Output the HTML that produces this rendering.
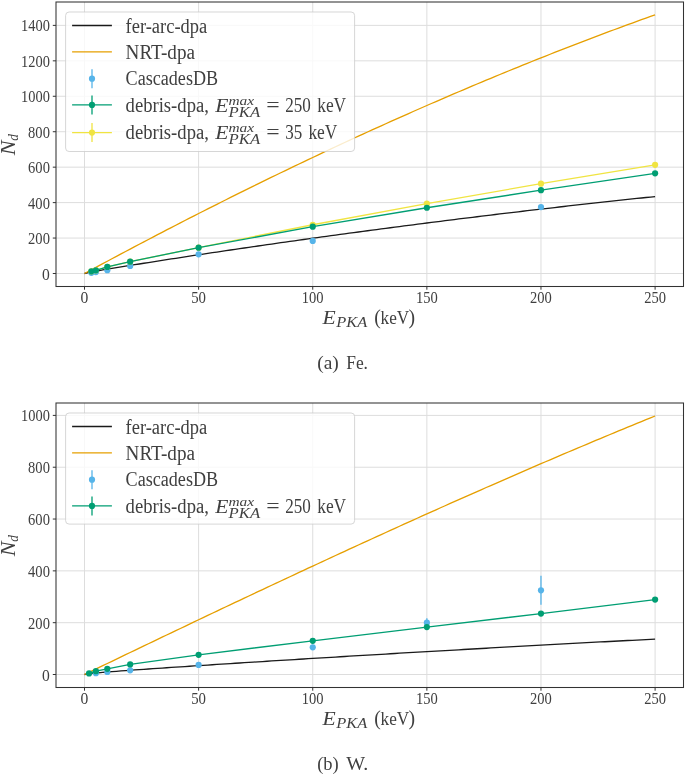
<!DOCTYPE html>
<html><head><meta charset="utf-8"><style>
html,body{margin:0;padding:0;background:#fff;}
svg{display:block;will-change:transform;}
</style></head><body>
<svg width="685" height="776" viewBox="0 0 685 776" font-family='"Liberation Serif", serif' fill="#404040">
<rect width="685" height="776" fill="#ffffff"/>
<line x1="84.50" y1="2.00" x2="84.50" y2="286.50" stroke="#dddddd" stroke-width="1.0"/>
<line x1="198.62" y1="2.00" x2="198.62" y2="286.50" stroke="#dddddd" stroke-width="1.0"/>
<line x1="312.74" y1="2.00" x2="312.74" y2="286.50" stroke="#dddddd" stroke-width="1.0"/>
<line x1="426.86" y1="2.00" x2="426.86" y2="286.50" stroke="#dddddd" stroke-width="1.0"/>
<line x1="540.98" y1="2.00" x2="540.98" y2="286.50" stroke="#dddddd" stroke-width="1.0"/>
<line x1="655.10" y1="2.00" x2="655.10" y2="286.50" stroke="#dddddd" stroke-width="1.0"/>
<line x1="56.00" y1="273.50" x2="683.50" y2="273.50" stroke="#dddddd" stroke-width="1.0"/>
<line x1="56.00" y1="238.06" x2="683.50" y2="238.06" stroke="#dddddd" stroke-width="1.0"/>
<line x1="56.00" y1="202.61" x2="683.50" y2="202.61" stroke="#dddddd" stroke-width="1.0"/>
<line x1="56.00" y1="167.17" x2="683.50" y2="167.17" stroke="#dddddd" stroke-width="1.0"/>
<line x1="56.00" y1="131.72" x2="683.50" y2="131.72" stroke="#dddddd" stroke-width="1.0"/>
<line x1="56.00" y1="96.28" x2="683.50" y2="96.28" stroke="#dddddd" stroke-width="1.0"/>
<line x1="56.00" y1="60.84" x2="683.50" y2="60.84" stroke="#dddddd" stroke-width="1.0"/>
<line x1="56.00" y1="25.39" x2="683.50" y2="25.39" stroke="#dddddd" stroke-width="1.0"/>
<polyline points="84.50,273.50 89.06,272.40 93.63,271.56 98.19,270.75 102.76,269.97 107.32,269.19 111.89,268.43 116.45,267.68 121.02,266.93 125.58,266.19 130.15,265.45 134.71,264.71 139.28,263.99 143.84,263.26 148.41,262.54 152.97,261.82 157.54,261.10 162.10,260.39 166.67,259.68 171.23,258.97 175.80,258.27 180.36,257.57 184.93,256.87 189.49,256.17 194.06,255.48 198.62,254.79 203.18,254.10 207.75,253.41 212.31,252.73 216.88,252.04 221.44,251.36 226.01,250.69 230.57,250.01 235.14,249.34 239.70,248.67 244.27,248.00 248.83,247.33 253.40,246.67 257.96,246.01 262.53,245.35 267.09,244.69 271.66,244.03 276.22,243.38 280.79,242.73 285.35,242.08 289.92,241.43 294.48,240.79 299.05,240.15 303.61,239.51 308.18,238.87 312.74,238.23 317.30,237.60 321.87,236.97 326.43,236.34 331.00,235.71 335.56,235.08 340.13,234.46 344.69,233.84 349.26,233.22 353.82,232.60 358.39,231.99 362.95,231.37 367.52,230.76 372.08,230.15 376.65,229.55 381.21,228.94 385.78,228.34 390.34,227.74 394.91,227.14 399.47,226.54 404.04,225.95 408.60,225.36 413.17,224.77 417.73,224.18 422.30,223.59 426.86,223.01 431.42,222.43 435.99,221.85 440.55,221.27 445.12,220.70 449.68,220.12 454.25,219.55 458.81,218.98 463.38,218.42 467.94,217.85 472.51,217.29 477.07,216.73 481.64,216.17 486.20,215.61 490.77,215.06 495.33,214.51 499.90,213.96 504.46,213.41 509.03,212.87 513.59,212.32 518.16,211.78 522.72,211.24 527.29,210.71 531.85,210.17 536.42,209.64 540.98,209.11 545.54,208.58 550.11,208.05 554.67,207.53 559.24,207.01 563.80,206.49 568.37,205.97 572.93,205.46 577.50,204.94 582.06,204.43 586.63,203.92 591.19,203.42 595.76,202.91 600.32,202.41 604.89,201.91 609.45,201.41 614.02,200.92 618.58,200.42 623.15,199.93 627.71,199.44 632.28,198.96 636.84,198.47 641.41,197.99 645.97,197.51 650.54,197.03 655.10,196.56" fill="none" stroke="#1a1a1a" stroke-width="1.3" stroke-linejoin="round" stroke-linecap="butt"/>
<polyline points="84.50,273.50 89.06,271.03 93.63,268.57 98.19,266.11 102.76,263.65 107.32,261.21 111.89,258.77 116.45,256.33 121.02,253.90 125.58,251.48 130.15,249.06 134.71,246.65 139.28,244.25 143.84,241.85 148.41,239.46 152.97,237.07 157.54,234.69 162.10,232.32 166.67,229.95 171.23,227.58 175.80,225.23 180.36,222.88 184.93,220.54 189.49,218.20 194.06,215.87 198.62,213.54 203.18,211.22 207.75,208.91 212.31,206.60 216.88,204.30 221.44,202.01 226.01,199.72 230.57,197.44 235.14,195.17 239.70,192.90 244.27,190.63 248.83,188.38 253.40,186.13 257.96,183.89 262.53,181.65 267.09,179.42 271.66,177.20 276.22,174.98 280.79,172.77 285.35,170.56 289.92,168.36 294.48,166.17 299.05,163.99 303.61,161.81 308.18,159.64 312.74,157.47 317.30,155.31 321.87,153.16 326.43,151.02 331.00,148.88 335.56,146.74 340.13,144.62 344.69,142.50 349.26,140.39 353.82,138.28 358.39,136.18 362.95,134.09 367.52,132.00 372.08,129.93 376.65,127.85 381.21,125.79 385.78,123.73 390.34,121.68 394.91,119.63 399.47,117.59 404.04,115.56 408.60,113.54 413.17,111.52 417.73,109.51 422.30,107.51 426.86,105.51 431.42,103.52 435.99,101.54 440.55,99.56 445.12,97.59 449.68,95.63 454.25,93.67 458.81,91.73 463.38,89.78 467.94,87.85 472.51,85.92 477.07,84.00 481.64,82.09 486.20,80.18 490.77,78.29 495.33,76.39 499.90,74.51 504.46,72.63 509.03,70.76 513.59,68.90 518.16,67.04 522.72,65.19 527.29,63.35 531.85,61.52 536.42,59.69 540.98,57.87 545.54,56.06 550.11,54.25 554.67,52.46 559.24,50.67 563.80,48.88 568.37,47.11 572.93,45.34 577.50,43.58 582.06,41.82 586.63,40.08 591.19,38.34 595.76,36.60 600.32,34.88 604.89,33.16 609.45,31.45 614.02,29.75 618.58,28.06 623.15,26.37 627.71,24.69 632.28,23.02 636.84,21.36 641.41,19.70 645.97,18.05 650.54,16.41 655.10,14.77" fill="none" stroke="#E69F00" stroke-width="1.3" stroke-linejoin="round" stroke-linecap="butt"/>
<circle cx="91.35" cy="272.79" r="3.1" fill="#56B4E9"/>
<circle cx="95.91" cy="272.08" r="3.1" fill="#56B4E9"/>
<circle cx="107.32" cy="270.13" r="3.1" fill="#56B4E9"/>
<circle cx="130.15" cy="265.88" r="3.1" fill="#56B4E9"/>
<circle cx="198.62" cy="254.36" r="3.1" fill="#56B4E9"/>
<circle cx="312.74" cy="240.89" r="3.1" fill="#56B4E9"/>
<circle cx="540.98" cy="207.04" r="3.1" fill="#56B4E9"/>
<polyline points="91.35,271.37 95.91,270.31 107.32,266.94 130.15,261.63 198.62,247.63 312.74,224.76 426.86,203.68 540.98,183.65 655.10,164.86" fill="none" stroke="#F0E442" stroke-width="1.3" stroke-linejoin="round" stroke-linecap="butt"/>
<circle cx="91.35" cy="271.37" r="3.1" fill="#F0E442"/>
<circle cx="95.91" cy="270.31" r="3.1" fill="#F0E442"/>
<circle cx="107.32" cy="266.94" r="3.1" fill="#F0E442"/>
<circle cx="130.15" cy="261.63" r="3.1" fill="#F0E442"/>
<circle cx="198.62" cy="247.63" r="3.1" fill="#F0E442"/>
<circle cx="312.74" cy="224.76" r="3.1" fill="#F0E442"/>
<circle cx="426.86" cy="203.68" r="3.1" fill="#F0E442"/>
<circle cx="540.98" cy="183.65" r="3.1" fill="#F0E442"/>
<circle cx="655.10" cy="164.86" r="3.1" fill="#F0E442"/>
<polyline points="91.35,271.37 95.91,270.31 107.32,266.94 130.15,261.63 198.62,247.63 312.74,226.71 426.86,207.75 540.98,190.21 655.10,173.37" fill="none" stroke="#009E73" stroke-width="1.3" stroke-linejoin="round" stroke-linecap="butt"/>
<circle cx="91.35" cy="271.37" r="3.1" fill="#009E73"/>
<circle cx="95.91" cy="270.31" r="3.1" fill="#009E73"/>
<circle cx="107.32" cy="266.94" r="3.1" fill="#009E73"/>
<circle cx="130.15" cy="261.63" r="3.1" fill="#009E73"/>
<circle cx="198.62" cy="247.63" r="3.1" fill="#009E73"/>
<circle cx="312.74" cy="226.71" r="3.1" fill="#009E73"/>
<circle cx="426.86" cy="207.75" r="3.1" fill="#009E73"/>
<circle cx="540.98" cy="190.21" r="3.1" fill="#009E73"/>
<circle cx="655.10" cy="173.37" r="3.1" fill="#009E73"/>
<rect x="65.6" y="12.00" width="289.0" height="139.50" rx="3.5" ry="3.5" fill="#ffffff" fill-opacity="0.8" stroke="#cccccc" stroke-opacity="0.8" stroke-width="1"/>
<line x1="72.10" y1="25.50" x2="111.90" y2="25.50" stroke="#1a1a1a" stroke-width="1.3"/>
<text x="125.60" y="32.50" font-size="20.0" font-style="normal" text-anchor="start" textLength="81.60" lengthAdjust="spacingAndGlyphs">fer-arc-dpa</text>
<line x1="72.10" y1="51.90" x2="111.90" y2="51.90" stroke="#E69F00" stroke-width="1.3"/>
<text x="125.60" y="58.60" font-size="20.0" font-style="normal" text-anchor="start" textLength="69.40" lengthAdjust="spacingAndGlyphs">NRT-dpa</text>
<line x1="92.00" y1="69.20" x2="92.00" y2="88.20" stroke="#56B4E9" stroke-width="1.3"/>
<circle cx="92.00" cy="78.70" r="3.1" fill="#56B4E9"/>
<text x="125.60" y="84.60" font-size="20.0" font-style="normal" text-anchor="start" textLength="92.50" lengthAdjust="spacingAndGlyphs">CascadesDB</text>
<line x1="72.10" y1="104.90" x2="111.90" y2="104.90" stroke="#009E73" stroke-width="1.3"/>
<line x1="92.00" y1="95.40" x2="92.00" y2="114.40" stroke="#009E73" stroke-width="1.3"/>
<circle cx="92.00" cy="104.90" r="3.1" fill="#009E73"/>
<text x="125.60" y="111.60" font-size="20.0" font-style="normal" text-anchor="start" textLength="83.30" lengthAdjust="spacingAndGlyphs">debris-dpa,</text>
<text x="215.30" y="111.60" font-size="19.0" font-style="italic" text-anchor="start" textLength="13.20" lengthAdjust="spacingAndGlyphs">E</text>
<text x="228.50" y="104.80" font-size="13.5" font-style="italic" text-anchor="start" textLength="25.60" lengthAdjust="spacingAndGlyphs">max</text>
<text x="228.60" y="116.60" font-size="14.5" font-style="italic" text-anchor="start" textLength="31.60" lengthAdjust="spacingAndGlyphs">PKA</text>
<text x="266.30" y="111.60" font-size="20.0" font-style="normal" text-anchor="start" textLength="13.40" lengthAdjust="spacingAndGlyphs">=</text>
<text x="285.20" y="111.60" font-size="20.4" font-style="normal" text-anchor="start" textLength="25.60" lengthAdjust="spacingAndGlyphs">250</text>
<text x="317.20" y="111.60" font-size="20.0" font-style="normal" text-anchor="start" textLength="29.00" lengthAdjust="spacingAndGlyphs">keV</text>
<line x1="72.10" y1="132.60" x2="111.90" y2="132.60" stroke="#F0E442" stroke-width="1.3"/>
<line x1="92.00" y1="123.10" x2="92.00" y2="142.10" stroke="#F0E442" stroke-width="1.3"/>
<circle cx="92.00" cy="132.60" r="3.1" fill="#F0E442"/>
<text x="125.60" y="138.70" font-size="20.0" font-style="normal" text-anchor="start" textLength="83.30" lengthAdjust="spacingAndGlyphs">debris-dpa,</text>
<text x="215.30" y="138.70" font-size="19.0" font-style="italic" text-anchor="start" textLength="13.20" lengthAdjust="spacingAndGlyphs">E</text>
<text x="228.50" y="131.90" font-size="13.5" font-style="italic" text-anchor="start" textLength="25.60" lengthAdjust="spacingAndGlyphs">max</text>
<text x="228.60" y="143.70" font-size="14.5" font-style="italic" text-anchor="start" textLength="31.60" lengthAdjust="spacingAndGlyphs">PKA</text>
<text x="266.30" y="138.70" font-size="20.0" font-style="normal" text-anchor="start" textLength="13.40" lengthAdjust="spacingAndGlyphs">=</text>
<text x="285.20" y="138.70" font-size="20.4" font-style="normal" text-anchor="start" textLength="17.00" lengthAdjust="spacingAndGlyphs">35</text>
<text x="308.40" y="138.70" font-size="20.0" font-style="normal" text-anchor="start" textLength="29.00" lengthAdjust="spacingAndGlyphs">keV</text>
<rect x="56.00" y="2.00" width="627.50" height="284.50" fill="none" stroke="#333333" stroke-width="1.05"/>
<line x1="84.50" y1="286.50" x2="84.50" y2="289.70" stroke="#333333" stroke-width="1.0"/>
<text x="84.50" y="303.40" font-size="17.2" font-style="normal" text-anchor="middle" textLength="7.80" lengthAdjust="spacingAndGlyphs">0</text>
<line x1="198.62" y1="286.50" x2="198.62" y2="289.70" stroke="#333333" stroke-width="1.0"/>
<text x="198.62" y="303.40" font-size="17.2" font-style="normal" text-anchor="middle" textLength="14.80" lengthAdjust="spacingAndGlyphs">50</text>
<line x1="312.74" y1="286.50" x2="312.74" y2="289.70" stroke="#333333" stroke-width="1.0"/>
<text x="312.74" y="303.40" font-size="17.2" font-style="normal" text-anchor="middle" textLength="21.80" lengthAdjust="spacingAndGlyphs">100</text>
<line x1="426.86" y1="286.50" x2="426.86" y2="289.70" stroke="#333333" stroke-width="1.0"/>
<text x="426.86" y="303.40" font-size="17.2" font-style="normal" text-anchor="middle" textLength="21.80" lengthAdjust="spacingAndGlyphs">150</text>
<line x1="540.98" y1="286.50" x2="540.98" y2="289.70" stroke="#333333" stroke-width="1.0"/>
<text x="540.98" y="303.40" font-size="17.2" font-style="normal" text-anchor="middle" textLength="21.80" lengthAdjust="spacingAndGlyphs">200</text>
<line x1="655.10" y1="286.50" x2="655.10" y2="289.70" stroke="#333333" stroke-width="1.0"/>
<text x="655.10" y="303.40" font-size="17.2" font-style="normal" text-anchor="middle" textLength="21.80" lengthAdjust="spacingAndGlyphs">250</text>
<line x1="52.80" y1="273.50" x2="56.00" y2="273.50" stroke="#333333" stroke-width="1.0"/>
<text x="49.90" y="279.50" font-size="17.2" font-style="normal" text-anchor="end" textLength="7.80" lengthAdjust="spacingAndGlyphs">0</text>
<line x1="52.80" y1="238.06" x2="56.00" y2="238.06" stroke="#333333" stroke-width="1.0"/>
<text x="49.90" y="244.06" font-size="17.2" font-style="normal" text-anchor="end" textLength="21.80" lengthAdjust="spacingAndGlyphs">200</text>
<line x1="52.80" y1="202.61" x2="56.00" y2="202.61" stroke="#333333" stroke-width="1.0"/>
<text x="49.90" y="208.61" font-size="17.2" font-style="normal" text-anchor="end" textLength="21.80" lengthAdjust="spacingAndGlyphs">400</text>
<line x1="52.80" y1="167.17" x2="56.00" y2="167.17" stroke="#333333" stroke-width="1.0"/>
<text x="49.90" y="173.17" font-size="17.2" font-style="normal" text-anchor="end" textLength="21.80" lengthAdjust="spacingAndGlyphs">600</text>
<line x1="52.80" y1="131.72" x2="56.00" y2="131.72" stroke="#333333" stroke-width="1.0"/>
<text x="49.90" y="137.72" font-size="17.2" font-style="normal" text-anchor="end" textLength="21.80" lengthAdjust="spacingAndGlyphs">800</text>
<line x1="52.80" y1="96.28" x2="56.00" y2="96.28" stroke="#333333" stroke-width="1.0"/>
<text x="49.90" y="102.28" font-size="17.2" font-style="normal" text-anchor="end" textLength="28.80" lengthAdjust="spacingAndGlyphs">1000</text>
<line x1="52.80" y1="60.84" x2="56.00" y2="60.84" stroke="#333333" stroke-width="1.0"/>
<text x="49.90" y="66.84" font-size="17.2" font-style="normal" text-anchor="end" textLength="28.80" lengthAdjust="spacingAndGlyphs">1200</text>
<line x1="52.80" y1="25.39" x2="56.00" y2="25.39" stroke="#333333" stroke-width="1.0"/>
<text x="49.90" y="31.39" font-size="17.2" font-style="normal" text-anchor="end" textLength="28.80" lengthAdjust="spacingAndGlyphs">1400</text>
<g transform="translate(14.6,155.15) rotate(-90)">
<text x="0.00" y="0.00" font-size="20.5" font-style="italic" text-anchor="start" textLength="14.80" lengthAdjust="spacingAndGlyphs">N</text>
<text x="14.40" y="3.30" font-size="14.5" font-style="italic" text-anchor="start" textLength="6.60" lengthAdjust="spacingAndGlyphs">d</text>
</g>
<text x="322.60" y="323.80" font-size="19.0" font-style="italic" text-anchor="start" textLength="13.20" lengthAdjust="spacingAndGlyphs">E</text>
<text x="336.30" y="327.00" font-size="14.5" font-style="italic" text-anchor="start" textLength="31.00" lengthAdjust="spacingAndGlyphs">PKA</text>
<text x="374.20" y="324.30" font-size="21.5" font-style="normal" text-anchor="start" textLength="6.60" lengthAdjust="spacingAndGlyphs">(</text>
<text x="380.60" y="323.70" font-size="19.5" font-style="normal" text-anchor="start" textLength="28.60" lengthAdjust="spacingAndGlyphs">keV</text>
<text x="408.40" y="324.30" font-size="21.5" font-style="normal" text-anchor="start" textLength="6.60" lengthAdjust="spacingAndGlyphs">)</text>
<text x="317.20" y="369.30" font-size="18.3" font-style="normal" text-anchor="start" textLength="21.60" lengthAdjust="spacingAndGlyphs">(a)</text>
<text x="346.20" y="369.30" font-size="18.3" font-style="normal" text-anchor="start" textLength="21.80" lengthAdjust="spacingAndGlyphs">Fe.</text>
<line x1="84.50" y1="403.00" x2="84.50" y2="687.50" stroke="#dddddd" stroke-width="1.0"/>
<line x1="198.62" y1="403.00" x2="198.62" y2="687.50" stroke="#dddddd" stroke-width="1.0"/>
<line x1="312.74" y1="403.00" x2="312.74" y2="687.50" stroke="#dddddd" stroke-width="1.0"/>
<line x1="426.86" y1="403.00" x2="426.86" y2="687.50" stroke="#dddddd" stroke-width="1.0"/>
<line x1="540.98" y1="403.00" x2="540.98" y2="687.50" stroke="#dddddd" stroke-width="1.0"/>
<line x1="655.10" y1="403.00" x2="655.10" y2="687.50" stroke="#dddddd" stroke-width="1.0"/>
<line x1="56.00" y1="674.50" x2="683.50" y2="674.50" stroke="#dddddd" stroke-width="1.0"/>
<line x1="56.00" y1="622.68" x2="683.50" y2="622.68" stroke="#dddddd" stroke-width="1.0"/>
<line x1="56.00" y1="570.86" x2="683.50" y2="570.86" stroke="#dddddd" stroke-width="1.0"/>
<line x1="56.00" y1="519.04" x2="683.50" y2="519.04" stroke="#dddddd" stroke-width="1.0"/>
<line x1="56.00" y1="467.22" x2="683.50" y2="467.22" stroke="#dddddd" stroke-width="1.0"/>
<line x1="56.00" y1="415.40" x2="683.50" y2="415.40" stroke="#dddddd" stroke-width="1.0"/>
<polyline points="84.50,674.50 89.06,673.66 93.63,673.19 98.19,672.78 102.76,672.39 107.32,672.02 111.89,671.66 116.45,671.31 121.02,670.97 125.58,670.63 130.15,670.30 134.71,669.97 139.28,669.65 143.84,669.33 148.41,669.01 152.97,668.69 157.54,668.38 162.10,668.07 166.67,667.76 171.23,667.45 175.80,667.14 180.36,666.84 184.93,666.54 189.49,666.23 194.06,665.93 198.62,665.63 203.18,665.33 207.75,665.04 212.31,664.74 216.88,664.45 221.44,664.15 226.01,663.86 230.57,663.56 235.14,663.27 239.70,662.98 244.27,662.69 248.83,662.40 253.40,662.11 257.96,661.83 262.53,661.54 267.09,661.25 271.66,660.97 276.22,660.68 280.79,660.40 285.35,660.11 289.92,659.83 294.48,659.55 299.05,659.27 303.61,658.99 308.18,658.71 312.74,658.43 317.30,658.15 321.87,657.87 326.43,657.59 331.00,657.31 335.56,657.04 340.13,656.76 344.69,656.49 349.26,656.21 353.82,655.94 358.39,655.66 362.95,655.39 367.52,655.12 372.08,654.84 376.65,654.57 381.21,654.30 385.78,654.03 390.34,653.76 394.91,653.49 399.47,653.22 404.04,652.96 408.60,652.69 413.17,652.42 417.73,652.16 422.30,651.89 426.86,651.62 431.42,651.36 435.99,651.10 440.55,650.83 445.12,650.57 449.68,650.31 454.25,650.04 458.81,649.78 463.38,649.52 467.94,649.26 472.51,649.00 477.07,648.74 481.64,648.49 486.20,648.23 490.77,647.97 495.33,647.71 499.90,647.46 504.46,647.20 509.03,646.95 513.59,646.69 518.16,646.44 522.72,646.18 527.29,645.93 531.85,645.68 536.42,645.43 540.98,645.18 545.54,644.93 550.11,644.68 554.67,644.43 559.24,644.18 563.80,643.93 568.37,643.68 572.93,643.44 577.50,643.19 582.06,642.95 586.63,642.70 591.19,642.46 595.76,642.21 600.32,641.97 604.89,641.73 609.45,641.49 614.02,641.24 618.58,641.00 623.15,640.76 627.71,640.52 632.28,640.29 636.84,640.05 641.41,639.81 645.97,639.57 650.54,639.34 655.10,639.10" fill="none" stroke="#1a1a1a" stroke-width="1.3" stroke-linejoin="round" stroke-linecap="butt"/>
<polyline points="84.50,674.50 89.06,672.30 93.63,670.10 98.19,667.89 102.76,665.69 107.32,663.50 111.89,661.30 116.45,659.10 121.02,656.91 125.58,654.71 130.15,652.52 134.71,650.33 139.28,648.13 143.84,645.95 148.41,643.76 152.97,641.57 157.54,639.38 162.10,637.20 166.67,635.02 171.23,632.84 175.80,630.66 180.36,628.48 184.93,626.30 189.49,624.12 194.06,621.95 198.62,619.78 203.18,617.61 207.75,615.44 212.31,613.27 216.88,611.11 221.44,608.94 226.01,606.78 230.57,604.62 235.14,602.46 239.70,600.31 244.27,598.15 248.83,596.00 253.40,593.85 257.96,591.70 262.53,589.56 267.09,587.41 271.66,585.27 276.22,583.13 280.79,580.99 285.35,578.86 289.92,576.72 294.48,574.59 299.05,572.46 303.61,570.34 308.18,568.21 312.74,566.09 317.30,563.97 321.87,561.85 326.43,559.74 331.00,557.63 335.56,555.52 340.13,553.41 344.69,551.31 349.26,549.21 353.82,547.11 358.39,545.01 362.95,542.92 367.52,540.83 372.08,538.74 376.65,536.65 381.21,534.57 385.78,532.49 390.34,530.42 394.91,528.34 399.47,526.27 404.04,524.20 408.60,522.14 413.17,520.08 417.73,518.02 422.30,515.96 426.86,513.91 431.42,511.86 435.99,509.82 440.55,507.78 445.12,505.74 449.68,503.70 454.25,501.67 458.81,499.64 463.38,497.61 467.94,495.59 472.51,493.57 477.07,491.56 481.64,489.54 486.20,487.53 490.77,485.53 495.33,483.53 499.90,481.53 504.46,479.54 509.03,477.55 513.59,475.56 518.16,473.58 522.72,471.60 527.29,469.62 531.85,467.65 536.42,465.68 540.98,463.72 545.54,461.76 550.11,459.81 554.67,457.85 559.24,455.91 563.80,453.96 568.37,452.02 572.93,450.09 577.50,448.16 582.06,446.23 586.63,444.31 591.19,442.39 595.76,440.47 600.32,438.56 604.89,436.66 609.45,434.76 614.02,432.86 618.58,430.97 623.15,429.08 627.71,427.20 632.28,425.32 636.84,423.44 641.41,421.57 645.97,419.71 650.54,417.85 655.10,415.99" fill="none" stroke="#E69F00" stroke-width="1.3" stroke-linejoin="round" stroke-linecap="butt"/>
<circle cx="95.91" cy="673.20" r="3.1" fill="#56B4E9"/>
<circle cx="107.32" cy="671.91" r="3.1" fill="#56B4E9"/>
<circle cx="130.15" cy="670.35" r="3.1" fill="#56B4E9"/>
<circle cx="198.62" cy="664.91" r="3.1" fill="#56B4E9"/>
<circle cx="312.74" cy="647.29" r="3.1" fill="#56B4E9"/>
<line x1="426.86" y1="627.08" x2="426.86" y2="618.28" stroke="#56B4E9" stroke-width="1.3"/>
<circle cx="426.86" cy="622.68" r="3.1" fill="#56B4E9"/>
<line x1="540.98" y1="604.80" x2="540.98" y2="575.78" stroke="#56B4E9" stroke-width="1.3"/>
<circle cx="540.98" cy="590.29" r="3.1" fill="#56B4E9"/>
<polyline points="89.06,673.46 95.91,671.13 107.32,668.80 130.15,664.40 198.62,654.81 312.74,640.82 426.86,627.08 540.98,613.61 655.10,599.62" fill="none" stroke="#009E73" stroke-width="1.3" stroke-linejoin="round" stroke-linecap="butt"/>
<circle cx="89.06" cy="673.46" r="3.1" fill="#009E73"/>
<circle cx="95.91" cy="671.13" r="3.1" fill="#009E73"/>
<circle cx="107.32" cy="668.80" r="3.1" fill="#009E73"/>
<circle cx="130.15" cy="664.40" r="3.1" fill="#009E73"/>
<circle cx="198.62" cy="654.81" r="3.1" fill="#009E73"/>
<circle cx="312.74" cy="640.82" r="3.1" fill="#009E73"/>
<circle cx="426.86" cy="627.08" r="3.1" fill="#009E73"/>
<circle cx="540.98" cy="613.61" r="3.1" fill="#009E73"/>
<circle cx="655.10" cy="599.62" r="3.1" fill="#009E73"/>
<rect x="65.6" y="413.00" width="289.0" height="111.10" rx="3.5" ry="3.5" fill="#ffffff" fill-opacity="0.8" stroke="#cccccc" stroke-opacity="0.8" stroke-width="1"/>
<line x1="72.10" y1="426.50" x2="111.90" y2="426.50" stroke="#1a1a1a" stroke-width="1.3"/>
<text x="125.60" y="433.50" font-size="20.0" font-style="normal" text-anchor="start" textLength="81.60" lengthAdjust="spacingAndGlyphs">fer-arc-dpa</text>
<line x1="72.10" y1="452.90" x2="111.90" y2="452.90" stroke="#E69F00" stroke-width="1.3"/>
<text x="125.60" y="459.60" font-size="20.0" font-style="normal" text-anchor="start" textLength="69.40" lengthAdjust="spacingAndGlyphs">NRT-dpa</text>
<line x1="92.00" y1="470.20" x2="92.00" y2="489.20" stroke="#56B4E9" stroke-width="1.3"/>
<circle cx="92.00" cy="479.70" r="3.1" fill="#56B4E9"/>
<text x="125.60" y="485.60" font-size="20.0" font-style="normal" text-anchor="start" textLength="92.50" lengthAdjust="spacingAndGlyphs">CascadesDB</text>
<line x1="72.10" y1="505.90" x2="111.90" y2="505.90" stroke="#009E73" stroke-width="1.3"/>
<line x1="92.00" y1="496.40" x2="92.00" y2="515.40" stroke="#009E73" stroke-width="1.3"/>
<circle cx="92.00" cy="505.90" r="3.1" fill="#009E73"/>
<text x="125.60" y="512.60" font-size="20.0" font-style="normal" text-anchor="start" textLength="83.30" lengthAdjust="spacingAndGlyphs">debris-dpa,</text>
<text x="215.30" y="512.60" font-size="19.0" font-style="italic" text-anchor="start" textLength="13.20" lengthAdjust="spacingAndGlyphs">E</text>
<text x="228.50" y="505.80" font-size="13.5" font-style="italic" text-anchor="start" textLength="25.60" lengthAdjust="spacingAndGlyphs">max</text>
<text x="228.60" y="517.60" font-size="14.5" font-style="italic" text-anchor="start" textLength="31.60" lengthAdjust="spacingAndGlyphs">PKA</text>
<text x="266.30" y="512.60" font-size="20.0" font-style="normal" text-anchor="start" textLength="13.40" lengthAdjust="spacingAndGlyphs">=</text>
<text x="285.20" y="512.60" font-size="20.4" font-style="normal" text-anchor="start" textLength="25.60" lengthAdjust="spacingAndGlyphs">250</text>
<text x="317.20" y="512.60" font-size="20.0" font-style="normal" text-anchor="start" textLength="29.00" lengthAdjust="spacingAndGlyphs">keV</text>
<rect x="56.00" y="403.00" width="627.50" height="284.50" fill="none" stroke="#333333" stroke-width="1.05"/>
<line x1="84.50" y1="687.50" x2="84.50" y2="690.70" stroke="#333333" stroke-width="1.0"/>
<text x="84.50" y="704.40" font-size="17.2" font-style="normal" text-anchor="middle" textLength="7.80" lengthAdjust="spacingAndGlyphs">0</text>
<line x1="198.62" y1="687.50" x2="198.62" y2="690.70" stroke="#333333" stroke-width="1.0"/>
<text x="198.62" y="704.40" font-size="17.2" font-style="normal" text-anchor="middle" textLength="14.80" lengthAdjust="spacingAndGlyphs">50</text>
<line x1="312.74" y1="687.50" x2="312.74" y2="690.70" stroke="#333333" stroke-width="1.0"/>
<text x="312.74" y="704.40" font-size="17.2" font-style="normal" text-anchor="middle" textLength="21.80" lengthAdjust="spacingAndGlyphs">100</text>
<line x1="426.86" y1="687.50" x2="426.86" y2="690.70" stroke="#333333" stroke-width="1.0"/>
<text x="426.86" y="704.40" font-size="17.2" font-style="normal" text-anchor="middle" textLength="21.80" lengthAdjust="spacingAndGlyphs">150</text>
<line x1="540.98" y1="687.50" x2="540.98" y2="690.70" stroke="#333333" stroke-width="1.0"/>
<text x="540.98" y="704.40" font-size="17.2" font-style="normal" text-anchor="middle" textLength="21.80" lengthAdjust="spacingAndGlyphs">200</text>
<line x1="655.10" y1="687.50" x2="655.10" y2="690.70" stroke="#333333" stroke-width="1.0"/>
<text x="655.10" y="704.40" font-size="17.2" font-style="normal" text-anchor="middle" textLength="21.80" lengthAdjust="spacingAndGlyphs">250</text>
<line x1="52.80" y1="674.50" x2="56.00" y2="674.50" stroke="#333333" stroke-width="1.0"/>
<text x="49.90" y="680.50" font-size="17.2" font-style="normal" text-anchor="end" textLength="7.80" lengthAdjust="spacingAndGlyphs">0</text>
<line x1="52.80" y1="622.68" x2="56.00" y2="622.68" stroke="#333333" stroke-width="1.0"/>
<text x="49.90" y="628.68" font-size="17.2" font-style="normal" text-anchor="end" textLength="21.80" lengthAdjust="spacingAndGlyphs">200</text>
<line x1="52.80" y1="570.86" x2="56.00" y2="570.86" stroke="#333333" stroke-width="1.0"/>
<text x="49.90" y="576.86" font-size="17.2" font-style="normal" text-anchor="end" textLength="21.80" lengthAdjust="spacingAndGlyphs">400</text>
<line x1="52.80" y1="519.04" x2="56.00" y2="519.04" stroke="#333333" stroke-width="1.0"/>
<text x="49.90" y="525.04" font-size="17.2" font-style="normal" text-anchor="end" textLength="21.80" lengthAdjust="spacingAndGlyphs">600</text>
<line x1="52.80" y1="467.22" x2="56.00" y2="467.22" stroke="#333333" stroke-width="1.0"/>
<text x="49.90" y="473.22" font-size="17.2" font-style="normal" text-anchor="end" textLength="21.80" lengthAdjust="spacingAndGlyphs">800</text>
<line x1="52.80" y1="415.40" x2="56.00" y2="415.40" stroke="#333333" stroke-width="1.0"/>
<text x="49.90" y="421.40" font-size="17.2" font-style="normal" text-anchor="end" textLength="28.80" lengthAdjust="spacingAndGlyphs">1000</text>
<g transform="translate(14.6,556.15) rotate(-90)">
<text x="0.00" y="0.00" font-size="20.5" font-style="italic" text-anchor="start" textLength="14.80" lengthAdjust="spacingAndGlyphs">N</text>
<text x="14.40" y="3.30" font-size="14.5" font-style="italic" text-anchor="start" textLength="6.60" lengthAdjust="spacingAndGlyphs">d</text>
</g>
<text x="322.60" y="724.80" font-size="19.0" font-style="italic" text-anchor="start" textLength="13.20" lengthAdjust="spacingAndGlyphs">E</text>
<text x="336.30" y="728.00" font-size="14.5" font-style="italic" text-anchor="start" textLength="31.00" lengthAdjust="spacingAndGlyphs">PKA</text>
<text x="374.20" y="725.30" font-size="21.5" font-style="normal" text-anchor="start" textLength="6.60" lengthAdjust="spacingAndGlyphs">(</text>
<text x="380.60" y="724.70" font-size="19.5" font-style="normal" text-anchor="start" textLength="28.60" lengthAdjust="spacingAndGlyphs">keV</text>
<text x="408.40" y="725.30" font-size="21.5" font-style="normal" text-anchor="start" textLength="6.60" lengthAdjust="spacingAndGlyphs">)</text>
<text x="317.20" y="770.30" font-size="18.3" font-style="normal" text-anchor="start" textLength="21.60" lengthAdjust="spacingAndGlyphs">(b)</text>
<text x="346.20" y="770.30" font-size="18.3" font-style="normal" text-anchor="start" textLength="22.00" lengthAdjust="spacingAndGlyphs">W.</text>
</svg>
</body></html>
